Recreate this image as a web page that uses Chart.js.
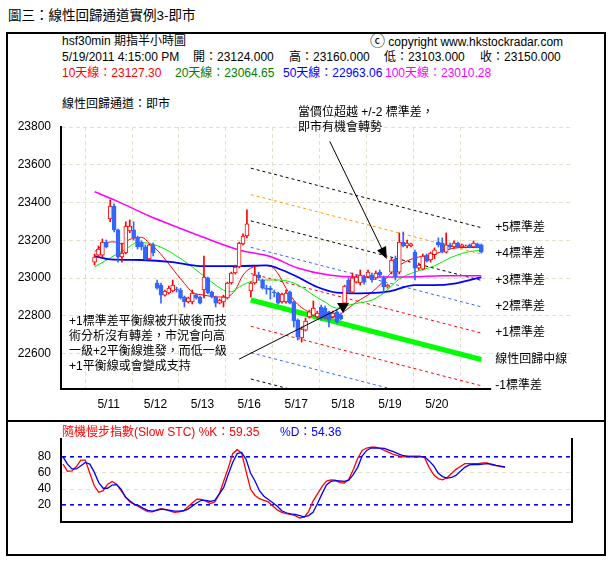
<!DOCTYPE html>
<html>
<head>
<meta charset="utf-8">
<script src="https://cdn.jsdelivr.net/npm/chart.js@4.4.1/dist/chart.umd.min.js"></script>
<style>
  body { margin: 0; background: #fff; font-family: "Liberation Sans", "Noto Sans CJK TC", sans-serif; font-size: 12px; color: #000; }
  .t { position: absolute; white-space: nowrap; line-height: 16px; }
  #frame { position: absolute; left: 6px; top: 32px; width: 596px; height: 520px; border: 2px solid #000; }
  #sep { position: absolute; left: 6px; top: 420px; width: 600px; height: 2px; background: #000; }
  canvas { position: absolute; left: 0; }
</style>
</head>
<body>
<div class="t" style="left:8px;top:8px;font-size:13.5px;">圖三：線性回歸通道實例3-即市</div>
<div id="frame"></div>
<div id="sep"></div>

<div class="t" style="left:62px;top:33px;">hsf30min 期指半小時圖</div>
<div class="t" style="left:370px;top:33px;"><span style="font-size:15px;">ⓒ</span> copyright www.hkstockradar.com</div>

<div class="t" style="left:62px;top:49px;">5/19/2011 4:15:00 PM</div>
<div class="t" style="left:193px;top:49px;">開：23124.000</div>
<div class="t" style="left:289px;top:49px;">高：23160.000</div>
<div class="t" style="left:384px;top:49px;">低：23103.000</div>
<div class="t" style="left:480px;top:49px;">收：23150.000</div>

<div class="t" style="left:62px;top:65px;color:#ff0000;">10天線：23127.30</div>
<div class="t" style="left:175px;top:65px;color:#008000;">20天線：23064.65</div>
<div class="t" style="left:283px;top:65px;color:#0000ff;">50天線：22963.06</div>
<div class="t" style="left:385px;top:65px;color:#ff00ff;">100天線：23010.28</div>

<div class="t" style="left:62px;top:96px;">線性回歸通道：即市</div>

<canvas id="main" width="611" height="420" style="top:0;"></canvas>
<canvas id="stc" width="611" height="133" style="top:422px;"></canvas>

<div class="t" style="left:298px;top:104px;">當價位超越 +/-2 標準差，</div>
<div class="t" style="left:298px;top:119px;">即市有機會轉勢</div>

<div class="t" style="left:69px;top:314px;line-height:15px;">+1標準差平衡線被升破後而技<br>術分析沒有轉差，市況會向高<br>一級+2平衡線進發，而低一級<br>+1平衡線或會變成支持</div>

<div class="t" style="left:62px;top:424px;color:#ff0000;">隨機慢步指數(Slow STC) %K：59.35</div>
<div class="t" style="left:280px;top:424px;color:#0000ff;">%D：54.36</div>

<script>
// half-hour bars, 5/10 (last 4 bars) to 5/20
const dayLabels = ['5/11', '5/12', '5/13', '5/16', '5/17', '5/18', '5/19', '5/20'];
const dayTicks = [3.6, 15.6, 27.6, 39.6, 51.6, 63.6, 75.6, 87.6];
const priceTicks = [22600, 22800, 23000, 23200, 23400, 23600, 23800];
const stcTicks = [20, 40, 60, 80];

const opens = [23085,23122,23122,23191,23313,23382,23255,23112,23133,23250,
  23255,23213,23191,23165,23101,23176,22974,22963,22910,22921,
  22932,22942,22937,22900,22874,22874,22910,22900,22937,23001,
  22926,22900,22868,22874,22895,22974,23027,23059,23181,23223,
  22932,22974,23016,22990,22947,22947,22926,22921,22874,22874,
  22926,22874,22778,22683,22725,22794,22804,22794,22847,22841,
  22821,22794,22821,22804,22868,22990,22926,22979,22974,23006,
  23006,23016,23001,23032,23001,22953,23032,23101,23032,23191,
  23170,23170,23138,23053,23048,23117,23096,23124,23191,23186,
  23138,23176,23165,23186,23165,23165,23176,23165,23181,23176];
const highs = [23128,23170,23207,23202,23414,23393,23260,23186,23298,23308,
  23298,23223,23197,23176,23181,23186,22990,22974,22937,22958,
  22990,22953,22947,22905,22900,22937,22916,22905,23117,23006,
  22932,22905,22889,22910,22979,23032,23069,23191,23234,23361,
  22979,23064,23032,22995,22963,22958,22937,22926,22921,22937,
  22932,22879,22784,22741,22788,22831,22879,22825,22857,22852,
  22826,22825,22831,22815,22963,23001,23027,23016,23043,23016,
  23043,23027,23037,23043,23011,22968,23107,23117,23239,23244,
  23202,23186,23149,23080,23128,23128,23138,23160,23213,23213,
  23239,23186,23197,23191,23181,23176,23181,23197,23186,23181];
const lows = [23069,23112,23112,23160,23298,23245,23085,23085,23128,23240,
  23202,23154,23149,23096,23096,23117,22942,22868,22905,22916,
  22926,22926,22889,22847,22868,22863,22889,22863,22895,22916,
  22895,22847,22863,22847,22889,22968,23022,23054,23176,23213,
  22900,22968,22990,22942,22916,22889,22900,22863,22868,22868,
  22863,22741,22672,22661,22720,22788,22799,22788,22778,22783,
  22741,22788,22762,22778,22847,22921,22921,22974,22963,22968,
  23001,22979,22995,23006,22921,22947,23022,22990,23022,23165,
  23160,23165,22990,23043,23043,23085,23085,23103,23165,23133,
  23133,23154,23160,23160,23160,23160,23160,23160,23160,23133];
const closes = [23112,23154,23191,23165,23382,23255,23112,23133,23276,23276,
  23213,23165,23165,23101,23176,23133,22947,22910,22932,22947,
  22963,22937,22895,22874,22895,22921,22895,22868,23006,22921,
  22900,22868,22884,22900,22974,23027,23059,23186,23223,23287,
  22974,23016,23001,22947,22942,22939,22921,22868,22916,22921,
  22868,22773,22688,22730,22773,22821,22841,22815,22788,22788,
  22778,22815,22768,22783,22958,22926,23001,23006,23016,22979,
  23032,22990,23027,23016,22953,22963,23096,23006,23191,23170,
  23186,23181,23053,23069,23117,23090,23133,23150,23176,23138,
  23176,23165,23186,23165,23176,23170,23165,23186,23165,23138];

// moving averages, read at a few bars each
const ma10Bars = [0,3,5,7,9,12,14,16,19,21,23,25,28,32,34,36,38,40,43,45,47,49,51,53,56,59,62,64,67,71,74,77,80,83,87,90,94,99];
const ma10 = [23140,23186,23192,23181,23205,23216,23186,23149,23075,23022,22972,22926,22910,22900,22902,22937,23016,23053,23067,23064,23022,22947,22884,22844,22810,22788,22799,22825,22873,22926,22985,23051,23091,23112,23127,23149,23162,23162];
const ma20Bars = [0,4,8,11,14,18,21,24,27,30,33,35,37,39,42,47,51,53,56,59,62,64,67,71,74,78,82,87,91,95,99];
const ma20 = [23059,23107,23154,23188,23184,23154,23117,23075,23027,22979,22937,22928,22953,22974,22990,22990,22974,22953,22910,22873,22841,22852,22866,22884,22921,22995,23032,23065,23107,23136,23149];
const ma50Bars = [0,4,12,20,27,37,44,48,52,57,62,68,75,82,87,92,96,99];
const ma50 = [23116,23099,23096,23085,23064,23064,23067,23043,23006,22953,22923,22919,22928,22963,22963,22971,22990,23004];
const ma100Bars = [0,6,14,21,27,37,45,52,60,67,75,82,89,99];
const ma100 = [23457,23405,23329,23271,23223,23149,23114,23054,23016,23006,23006,23007,23013,23013];

// regression channel, from bar 40 to bar 99
const channelFrom = 40;
const channelTo = 99;
const channelNames = ['+5標準差', '+4標準差', '+3標準差', '+2標準差', '+1標準差', '線性回歸中線', '-1標準差', '', ''];
const channelStart = [23582, 23442, 23303, 23163, 23024, 22884, 22745, 22605, 22466];
const channelEnd = [23267, 23127, 22988, 22848, 22709, 22569, 22430, 22290, 22151];
const channelColors = ['#000000', '#ff9900', '#000000', '#3366ff', '#ff0000', '#00ff00', '#ff0000', '#3366ff', '#000000'];

// slow stochastic
const stochK = [71,62,62.5,68,76,76,60,44,36,38,
  46,49.5,46,38,30,24,21,18,14.5,12,
  11.5,14,15.5,14.5,12.5,11,11.5,13,18,23,
  27.5,27,25,22,24,34,50,66,84,89,
  85,62,40,32,28,26,24,19,14,11,
  9.5,8.5,7,4,5,12,25,34,43,50,
  51.5,51,48,47.5,52,64,78,88,91,92,
  92,90.5,88,85.5,83,81.5,80,80.5,80.8,80.8,
  80.8,79,67,58,53,51.5,54,59.35,64.5,68,
  71.5,71.5,71.5,71.5,72.5,72.5,70,69,68,67];
const stochD = [80,71,65,65,69,73,71,61,48,41,
  41,45,45.5,40,30,25,21,19.5,16,13.5,
  12.5,13.5,15,14.5,13.5,12.5,12.5,13,15,19,
  23,26,26,24.5,26,34,42,58,73,84,
  85.5,77,60,50,38,31,27,23,18.5,13,
  10.5,9,8.5,7,5.5,7,11,22,34,45,
  49.5,50.5,50,49.5,51,58,67,81,88,91,
  91,91,90.5,88.5,86.5,84,82,81,80,80,
  80,80,75,69,60,55.5,53.5,54.36,57,62,
  67,70,70.5,70.5,71,71.5,71,69.5,68.5,67.5];

// annotation arrows in (bar, price)
const arrow1 = { from: [60.2, 23724], to: [74.8, 23101] };
const arrow2 = { from: [37.0, 22571], to: [63.6, 22815] };

const FONT = '"Liberation Sans", "Noto Sans CJK TC", sans-serif';
const UP = '#ff0000';
const DOWN = '#3366ff';
const GRID = '#e4e0cc';

const idx = opens.map((_, i) => i);
const isUp = idx.map(i => closes[i] >= opens[i]);
const pts = (bars, vals) => bars.map((b, k) => ({ x: b, y: vals[k] }));

const maLine = (data, color, width) => ({
  type: 'line', data: data, borderColor: color, borderWidth: width,
  pointRadius: 0, fill: false, cubicInterpolationMode: 'monotone', order: 4
});

const datasets = [];
channelStart.forEach((s, k) => {
  const center = channelNames[k] === '線性回歸中線';
  datasets.push({
    type: 'line',
    data: [{ x: channelFrom, y: s }, { x: channelTo, y: channelEnd[k] }],
    borderColor: channelColors[k],
    borderWidth: center ? 5 : 1,
    borderDash: center ? [] : [3, 3],
    pointRadius: 0, fill: false, order: 6
  });
});
datasets.push(maLine(pts(ma100Bars, ma100), '#ff00ff', 1.5));
datasets.push(maLine(pts(ma50Bars, ma50), '#0000ff', 1.8));
datasets.push(maLine(pts(ma20Bars, ma20), '#00ee00', 1));
datasets.push(maLine(pts(ma10Bars, ma10), '#ff0000', 1));
datasets.push({
  type: 'bar', grouped: false, order: 2,
  data: idx.map(i => ({ x: i, y: [lows[i], highs[i]] })),
  backgroundColor: idx.map(i => isUp[i] ? UP : DOWN),
  borderWidth: 0, barThickness: 1
});
datasets.push({
  type: 'bar', grouped: false, order: 1,
  data: idx.map(i => ({ x: i, y: [opens[i], closes[i]] })),
  backgroundColor: idx.map(i => isUp[i] ? '#ffffff' : DOWN),
  borderColor: idx.map(i => isUp[i] ? UP : DOWN),
  borderWidth: 1, borderSkipped: false, barThickness: 4
});

const overlay = {
  id: 'overlay',
  afterDatasetsDraw(chart) {
    const { ctx, chartArea, scales: { x, y } } = chart;
    ctx.save();
    // bottom axis line
    ctx.strokeStyle = '#000';
    ctx.lineWidth = 2;
    ctx.beginPath();
    ctx.moveTo(chartArea.left, chartArea.bottom);
    ctx.lineTo(x.getPixelForValue(101.5), chartArea.bottom);
    ctx.stroke();

    // channel labels
    ctx.font = '12px ' + FONT;
    ctx.fillStyle = '#000';
    ctx.textBaseline = 'middle';
    channelNames.forEach((name, k) => {
      if (!name) return;
      ctx.fillText(name, x.getPixelForValue(channelTo) + 14, y.getPixelForValue(channelEnd[k]));
    });

    // arrow 1
    const ax0 = x.getPixelForValue(arrow1.from[0]), ay0 = y.getPixelForValue(arrow1.from[1]);
    const ax1 = x.getPixelForValue(arrow1.to[0]), ay1 = y.getPixelForValue(arrow1.to[1]);
    const ang = Math.atan2(ay1 - ay0, ax1 - ax0);
    ctx.lineWidth = 1;
    ctx.beginPath();
    ctx.moveTo(ax0, ay0);
    ctx.lineTo(ax1 - 8 * Math.cos(ang), ay1 - 8 * Math.sin(ang));
    ctx.stroke();
    ctx.beginPath();
    ctx.moveTo(ax1, ay1);
    ctx.lineTo(ax1 - 12 * Math.cos(ang) + 5 * Math.sin(ang), ay1 - 12 * Math.sin(ang) - 5 * Math.cos(ang));
    ctx.lineTo(ax1 - 12 * Math.cos(ang) - 5 * Math.sin(ang), ay1 - 12 * Math.sin(ang) + 5 * Math.cos(ang));
    ctx.closePath();
    ctx.fill();

    // arrow 2
    const bx0 = x.getPixelForValue(arrow2.from[0]), by0 = y.getPixelForValue(arrow2.from[1]);
    const bx1 = x.getPixelForValue(arrow2.to[0]), by1 = y.getPixelForValue(arrow2.to[1]);
    ctx.beginPath();
    ctx.moveTo(bx0, by0);
    ctx.lineTo(bx1 - 1, by1 - 6);
    ctx.stroke();
    ctx.beginPath();
    ctx.moveTo(bx1 - 6, by1 - 10);
    ctx.lineTo(bx1 + 6, by1 - 10);
    ctx.lineTo(bx1, by1);
    ctx.closePath();
    ctx.fill();
    ctx.restore();
  }
};

new Chart(document.getElementById('main'), {
  type: 'bar',
  data: { datasets: datasets },
  options: {
    responsive: false,
    animation: false,
    layout: { padding: { top: 127, right: 41, left: 0, bottom: 0 } },
    plugins: { legend: { display: false }, tooltip: { enabled: false } },
    scales: {
      x: {
        type: 'linear', min: -0.45, max: 113.55,
        afterBuildTicks: s => { s.ticks = dayTicks.map(v => ({ value: v })); },
        afterFit: s => { s.height = 31; },
        ticks: {
          callback: v => dayLabels[dayTicks.indexOf(v)],
          font: { size: 12, family: FONT }, color: '#000', padding: 8,
          maxRotation: 0, autoSkip: false
        },
        grid: { color: GRID, lineWidth: 1, drawTicks: false, borderDash: [4, 3] },
        border: { display: false, dash: [4, 3] }
      },
      y: {
        min: 22413, max: 23800,
        afterBuildTicks: s => { s.ticks = priceTicks.map(v => ({ value: v })); },
        afterFit: s => { s.width = 61; },
        ticks: { callback: v => String(v), font: { size: 12, family: FONT }, color: '#000', padding: 10 },
        grid: { color: GRID, lineWidth: 1, drawTicks: false, borderDash: [4, 3] },
        border: { display: true, color: '#000', width: 2, dash: [4, 3] }
      }
    }
  },
  plugins: [overlay]
});

// stochastic panel
new Chart(document.getElementById('stc'), {
  type: 'line',
  data: {
    datasets: [
      { data: stochK.map((v, i) => ({ x: i, y: v })), borderColor: '#ff0000', borderWidth: 1.3, pointRadius: 0, fill: false, order: 2 },
      { data: stochD.map((v, i) => ({ x: i, y: v })), borderColor: '#0000ff', borderWidth: 1.3, pointRadius: 0, fill: false, order: 1 }
    ]
  },
  options: {
    responsive: false,
    animation: false,
    layout: { padding: { top: 16, right: 0, left: 0, bottom: 0 } },
    plugins: { legend: { display: false }, tooltip: { enabled: false } },
    scales: {
      x: {
        type: 'linear', min: -0.45, max: 114.0,
        afterFit: s => { s.height = 33; },
        ticks: { display: false },
        grid: { display: false, drawTicks: false },
        border: { display: true, color: '#000', width: 2 }
      },
      y: {
        min: -1, max: 102,
        afterBuildTicks: s => { s.ticks = stcTicks.map(v => ({ value: v })); },
        afterFit: s => { s.width = 61; },
        ticks: { font: { size: 12, family: FONT }, color: '#000', padding: 10 },
        grid: {
          drawTicks: false,
          color: c => (c.tick && (c.tick.value === 80 || c.tick.value === 20)) ? '#0000ff' : GRID,
          lineWidth: c => (c.tick && (c.tick.value === 80 || c.tick.value === 20)) ? 1.6 : 1,
          borderDash: [4, 4]
        },
        border: { display: true, color: '#000', width: 2, dash: [4, 4] }
      },
      y2: {
        position: 'right', min: -1, max: 102,
        afterFit: s => { s.width = 39; },
        ticks: { display: false },
        grid: { display: false, drawTicks: false },
        border: { display: true, color: '#000', width: 2 }
      }
    }
  }
});
</script>
</body>
</html>
